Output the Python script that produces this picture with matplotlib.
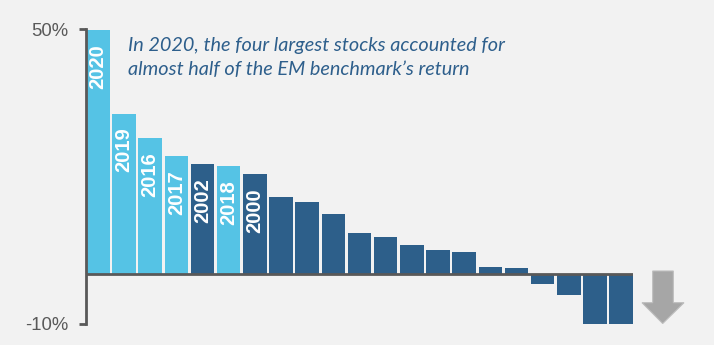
import matplotlib
matplotlib.use("Agg")
import matplotlib.pyplot as plt
from matplotlib.patches import Polygon

# Annual returns, sorted from best to worst (%)
returns = [49.8, 32.8, 27.8, 24.1, 22.5, 22.1, 20.4, 15.7, 14.7, 12.3, 8.4,
           7.6, 6.1, 4.9, 4.5, 1.6, 1.4, -2.0, -4.2, -10.0, -10.0]
# Year labels for the highlighted bars (empty = no label)
year_labels = ["2020", "2019", "2016", "2017", "2002", "2018", "2000"] + [""] * 14
# Recent years get the light shade
recent = [True, True, True, True, False, True, False] + [False] * 14

y_ticks = [50, -10]
y_tick_labels = ["50%", "-10%"]
note_lines = ["In 2020, the four largest stocks accounted for",
              "almost half of the EM benchmark\u2019s return"]

LIGHT = "#55C3E5"
DARK = "#2D5F8A"
BG = "#F2F2F2"
GREY = "#595959"

fig = plt.figure(figsize=(7.14, 3.45), dpi=100, facecolor=BG)
ax = fig.add_axes([86 / 714, 1 - 323.5 / 345, (633 - 86) / 714, (323.5 - 29.3) / 345])
ax.set_facecolor(BG)

x = list(range(len(returns)))
colors = [LIGHT if r else DARK for r in recent]
ax.bar(x, returns, width=0.9, color=colors, linewidth=0, zorder=2)

ax.set_xlim(-0.45, len(returns) - 1 + 0.45)
ax.set_ylim(-10, 50)

# Year labels inside the top of each bar
for xi, val, lab in zip(x, returns, year_labels):
    if lab:
        ax.annotate(lab, (xi, val), xytext=(0, -10), textcoords="offset points",
                    rotation=90, ha="center", va="top", color="white",
                    fontsize=14.5, fontweight="bold", family="Liberation Sans",
                    zorder=3)

# Axes styling
for s in ["top", "right", "bottom"]:
    ax.spines[s].set_visible(False)
ax.spines["left"].set_color(GREY)
ax.spines["left"].set_linewidth(2)
ax.axhline(0, color=GREY, linewidth=2, zorder=3)
ax.set_xticks([])
ax.set_yticks(y_ticks)
ax.set_yticklabels(y_tick_labels, fontsize=13.3, color=GREY, family="Liberation Sans")
ax.tick_params(axis="y", length=5, width=2, color=GREY, pad=8)

# Note text, one line at a time
for line, base in zip(note_lines, [51, 75]):
    fig.text(128 / 714, 1 - base / 345, line, fontsize=14.3, style="italic",
             color="#2E5F8C", family="Lato", va="baseline")

# Downward arrow on the right
arrow = [(652.7, 271), (673.3, 271), (673.3, 302.7), (684, 302.7), (662.7, 323.5),
         (642, 302.7), (652.7, 302.7)]
arrow_fig = [(px / 714, 1 - py / 345) for px, py in arrow]
fig.patches.append(Polygon(arrow_fig, closed=True, transform=fig.transFigure,
                           facecolor="#A6A6A6", edgecolor="#BDBDBD", linewidth=0.8))

fig.savefig("out.png", dpi=100, facecolor=BG)
